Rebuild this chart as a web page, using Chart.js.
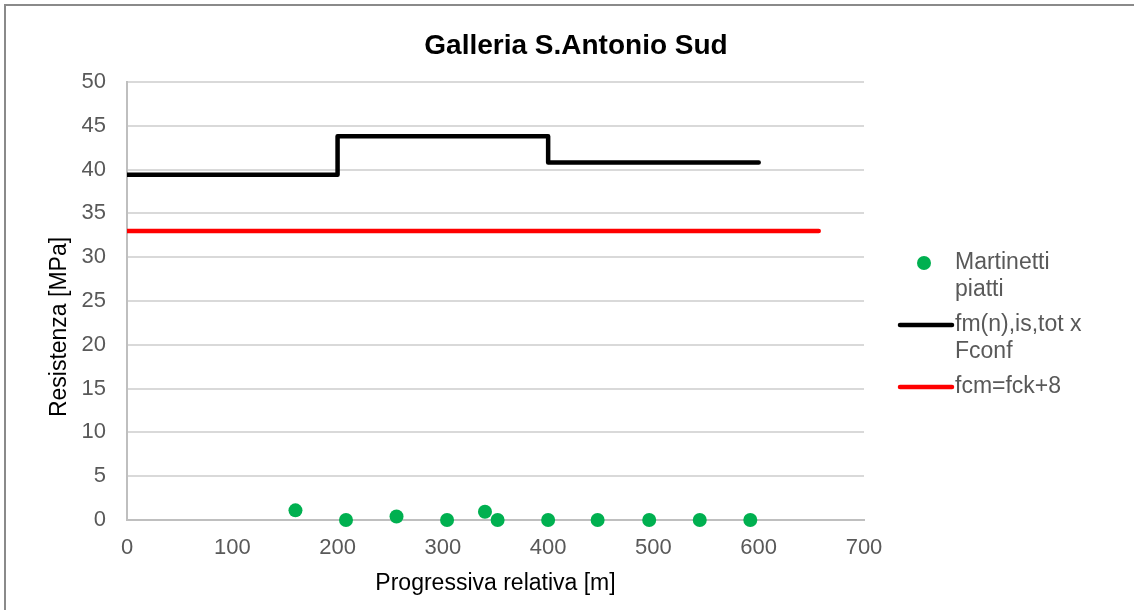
<!DOCTYPE html>
<html>
<head>
<meta charset="utf-8">
<script src="https://cdn.jsdelivr.net/npm/chart.js@4/dist/chart.umd.min.js"></script>
<style>
  html, body { margin: 0; padding: 0; background: #fff; }
  #wrap { width: 1134px; height: 610px; position: relative; }
</style>
</head>
<body>
<div id="wrap"><canvas id="c" width="1134" height="610"></canvas></div>
<script>
// Flat-jack test points: position along the tunnel [m] and strength [MPa]
const jackX = [160, 208, 256, 304, 340, 352, 400, 447, 496, 544, 592];
const jackY = [1.1, 0, 0.4, 0, 0.95, 0, 0, 0, 0, 0, 0];

// Mean strength per stretch times confidence factor (step profile)
const meanX = [0, 200, 200, 400, 400, 600];
const meanY = [39.4, 39.4, 43.8, 43.8, 40.8, 40.8];

// Design reference fcm = fck + 8
const refX = [0, 657];
const refY = [33, 33];

const yTicks = [0, 5, 10, 15, 20, 25, 30, 35, 40, 45, 50];
const xTicks = [0, 100, 200, 300, 400, 500, 600, 700];

const chartTitle = 'Galleria S.Antonio Sud';
const yTitle = 'Resistenza [MPa]';
const xTitle = 'Progressiva relativa [m]';
const seriesNames = ['Martinetti piatti', 'fm(n),is,tot x Fconf', 'fcm=fck+8'];

const FONT = "'Liberation Sans', Arial, sans-serif";
const toPts = (xs, ys) => xs.map((x, i) => ({ x: x, y: ys[i] }));

// Frame, title, vertical axis title and side legend
const decor = {
  id: 'decor',
  afterDraw(chart) {
    const ctx = chart.ctx;
    ctx.save();
    ctx.strokeStyle = '#8a8a8a';
    ctx.lineWidth = 2;
    ctx.strokeRect(5, 5, 1140, 620);

    ctx.fillStyle = '#000';
    ctx.font = 'bold 28px ' + FONT;
    ctx.textAlign = 'center';
    ctx.textBaseline = 'alphabetic';
    ctx.fillText(chartTitle, 576, 54);

    ctx.save();
    ctx.translate(60, 327);
    ctx.rotate(-Math.PI / 2);
    ctx.font = '23px ' + FONT;
    ctx.textBaseline = 'middle';
    ctx.fillText(yTitle, 0, 0);
    ctx.restore();

    // legend
    ctx.font = '23px ' + FONT;
    ctx.textAlign = 'left';
    ctx.textBaseline = 'middle';
    const textX = 955, maxW = 140, lineH = 27;
    let y = 263;
    chart.data.datasets.forEach(ds => {
      const words = ds.label.split(' ');
      const lines = [];
      let cur = '';
      words.forEach(w => {
        const t = cur ? cur + ' ' + w : w;
        if (ctx.measureText(t).width > maxW && cur) { lines.push(cur); cur = w; }
        else cur = t;
      });
      if (cur) lines.push(cur);

      if (ds.showLine) {
        ctx.strokeStyle = ds.borderColor;
        ctx.lineWidth = ds.borderWidth;
        ctx.lineCap = 'round';
        ctx.beginPath();
        ctx.moveTo(900, y);
        ctx.lineTo(952, y);
        ctx.stroke();
      } else {
        ctx.fillStyle = ds.backgroundColor;
        ctx.beginPath();
        ctx.arc(924, y, ds.pointRadius, 0, Math.PI * 2);
        ctx.fill();
      }
      ctx.fillStyle = '#595959';
      lines.forEach((ln, i) => ctx.fillText(ln, textX, y + i * lineH));
      y += lines.length * lineH + (lines.length > 1 ? 8 : 0);
    });
    ctx.restore();
  }
};

new Chart(document.getElementById('c'), {
  type: 'scatter',
  data: {
    datasets: [
      {
        label: seriesNames[0],
        data: toPts(jackX, jackY),
        backgroundColor: '#00b050',
        borderColor: '#00b050',
        pointRadius: 7,
        pointBorderWidth: 0,
        showLine: false,
        clip: false
      },
      {
        label: seriesNames[1],
        data: toPts(meanX, meanY),
        borderColor: '#000000',
        backgroundColor: '#000000',
        borderWidth: 4.5,
        pointRadius: 0,
        showLine: true,
        borderCapStyle: 'round',
        borderJoinStyle: 'round'
      },
      {
        label: seriesNames[2],
        data: toPts(refX, refY),
        borderColor: '#ff0000',
        backgroundColor: '#ff0000',
        borderWidth: 4.5,
        pointRadius: 0,
        showLine: true,
        borderCapStyle: 'round'
      }
    ]
  },
  options: {
    responsive: false,
    animation: false,
    devicePixelRatio: 1,
    layout: { padding: { left: 0, right: 270, top: 82, bottom: 0 } },
    plugins: { legend: { display: false }, tooltip: { enabled: false }, title: { display: false } },
    scales: {
      x: {
        type: 'linear',
        min: 0, max: 700,
        afterBuildTicks: s => { s.ticks = xTicks.map(v => ({ value: v })); },
        afterFit: s => { s.height = 90; },
        grid: { display: false, drawTicks: false },
        border: { display: true, color: '#bfbfbf', width: 2 },
        ticks: { color: '#595959', font: { family: FONT, size: 22 }, padding: 15, maxRotation: 0 },
        title: {
          display: true, text: xTitle, color: '#000',
          font: { family: FONT, size: 23 }, padding: { top: 0, bottom: 13 }
        }
      },
      y: {
        type: 'linear',
        min: 0, max: 50,
        afterBuildTicks: s => { s.ticks = yTicks.map(v => ({ value: v })); },
        afterFit: s => { s.width = 127; },
        grid: { color: '#d9d9d9', lineWidth: 2, drawTicks: false },
        border: { display: true, color: '#bfbfbf', width: 2 },
        ticks: { color: '#595959', font: { family: FONT, size: 22 }, padding: 21 },
        title: { display: false }
      }
    }
  },
  plugins: [decor]
});
</script>
</body>
</html>
